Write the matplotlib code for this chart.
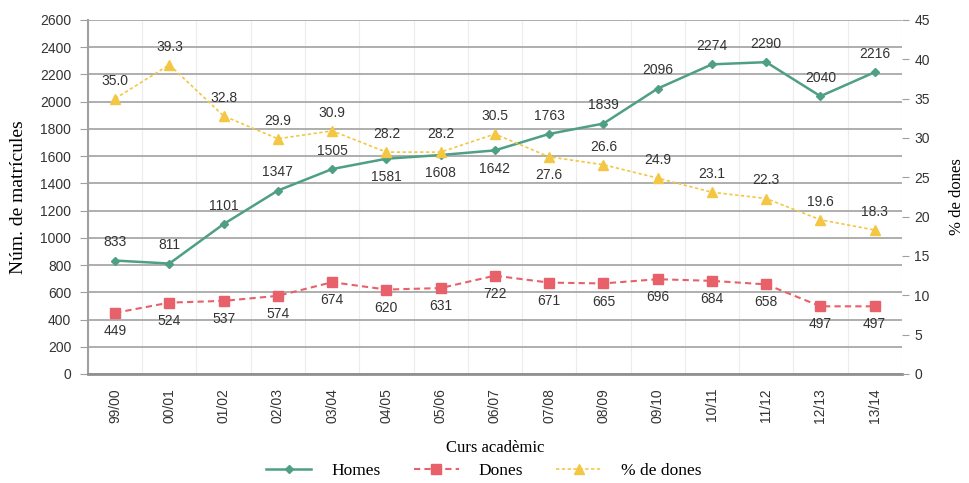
import numpy as np
import matplotlib.pyplot as plt
from matplotlib.lines import Line2D

cursos = ["99/00", "00/01", "01/02", "02/03", "03/04", "04/05", "05/06", "06/07",
          "07/08", "08/09", "09/10", "10/11", "11/12", "12/13", "13/14"]
homes = [833, 811, 1101, 1347, 1505, 1581, 1608, 1642, 1763, 1839, 2096, 2274, 2290, 2040, 2216]
dones = [449, 524, 537, 574, 674, 620, 631, 722, 671, 665, 696, 684, 658, 497, 497]
pct_dones = [35.0, 39.3, 32.8, 29.9, 30.9, 28.2, 28.2, 30.5, 27.6, 26.6, 24.9, 23.1, 22.3, 19.6, 18.3]

# posicio de les etiquetes: 1 = a sobre, -1 = a sota
pos_homes = [1, 1, 1, 1, 1, -1, -1, -1, 1, 1, 1, 1, 1, 1, 1]
pos_pct = [1, 1, 1, 1, 1, 1, 1, 1, -1, 1, 1, 1, 1, 1, 1]

c_homes = "#4f9f86"
c_dones = "#e8606a"
c_pct = "#f3c744"
sans = "Liberation Sans"
serif = "Liberation Serif"
fs = 10

x = np.arange(len(cursos))

fig = plt.figure(figsize=(9.7, 4.83), dpi=100)
ax = fig.add_axes([0.0907, 0.2257, 0.839, 0.733])
ax2 = ax.twinx()

ax.set_xlim(-0.5, len(cursos) - 0.5)
ax.set_ylim(0, 2600)
ax2.set_ylim(0, 45)
ax.set_yticks(np.arange(0, 2601, 200))
ax2.set_yticks(np.arange(0, 46, 5))

ax.grid(axis="y", color="#a8a8a8", lw=1.3)
for b in np.arange(-0.5, len(cursos), 1):
    ax.axvline(b, color="#ececec", lw=0.8, zorder=0)
ax.set_axisbelow(True)

for a in (ax, ax2):
    for s in ("top", "right"):
        a.spines[s].set_visible(False)
ax2.spines["left"].set_visible(False)
ax2.spines["bottom"].set_visible(False)
ax.spines["left"].set_color("#a0a0a0")
ax.spines["left"].set_linewidth(1.5)
ax.spines["bottom"].set_color("#909090")
ax.spines["bottom"].set_linewidth(2)

ax.set_xticks(x)
ax.set_xticklabels(cursos, rotation=90, fontsize=fs, family=sans, color="#333333")
ax.tick_params(axis="x", length=0, pad=10)
ax.tick_params(axis="y", length=6, pad=6, color="#a0a0a0", labelsize=fs, labelcolor="#333333")
ax2.tick_params(axis="y", length=5, pad=4, color="#a0a0a0", labelsize=fs, labelcolor="#333333")
for lab in ax.get_yticklabels() + ax2.get_yticklabels():
    lab.set_family(sans)

ax.plot(x, homes, color=c_homes, lw=1.8, marker="D", ms=4.5, zorder=4)
ax.plot(x, dones, color=c_dones, lw=1.5, ls=(0, (3, 2)), marker="s", ms=7, zorder=4)
ax2.plot(x, pct_dones, color=c_pct, lw=1.2, ls=(0, (2, 1.5)), marker="^", ms=7, zorder=4)

for i in range(len(x)):
    ax.annotate(str(homes[i]), (x[i], homes[i]), xytext=(0, 8 * pos_homes[i]),
                textcoords="offset points", ha="center",
                va="bottom" if pos_homes[i] > 0 else "top",
                fontsize=fs, family=sans, color="#333333")
    ax.annotate(str(dones[i]), (x[i], dones[i]), xytext=(0, -8),
                textcoords="offset points", ha="center", va="top",
                fontsize=fs, family=sans, color="#333333")
    ax2.annotate(f"{pct_dones[i]:.1f}", (x[i], pct_dones[i]), xytext=(0, 8 * pos_pct[i]),
                 textcoords="offset points", ha="center",
                 va="bottom" if pos_pct[i] > 0 else "top",
                 fontsize=fs, family=sans, color="#333333")

ax.set_ylabel("Núm. de matrícules", family=serif, fontsize=14)
ax.yaxis.set_label_coords(-0.075, 0.5)
ax2.set_ylabel("% de dones", family=serif, fontsize=12)
ax2.yaxis.set_label_coords(1.058, 0.5)
ax.set_xlabel("Curs acadèmic", family=serif, fontsize=12, labelpad=12)

handles = [
    Line2D([], [], color=c_homes, lw=1.8, marker="D", ms=4.5),
    Line2D([], [], color=c_dones, lw=1.5, ls=(0, (3, 2)), marker="s", ms=7),
    Line2D([], [], color=c_pct, lw=1.2, ls=(0, (2, 1.5)), marker="^", ms=7),
]
fig.legend(handles, ["Homes", "Dones", "% de dones"], loc="center",
           bbox_to_anchor=(0.499, 0.025), ncol=3, frameon=False,
           prop={"family": serif, "size": 12.5}, handlelength=2.6,
           handletextpad=1.15, columnspacing=1.9)

fig.savefig("out.png", dpi=100)
